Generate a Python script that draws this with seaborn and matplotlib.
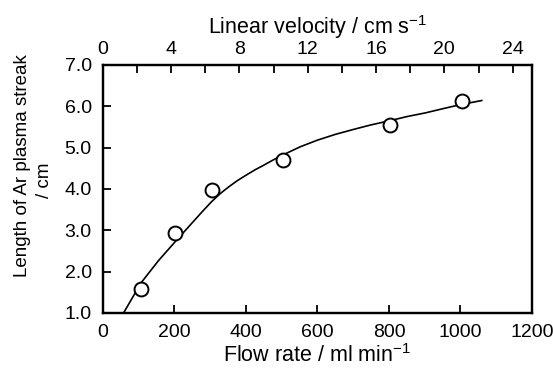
import matplotlib
matplotlib.use("Agg")
import matplotlib.pyplot as plt
import seaborn as sns
import pandas as pd
from matplotlib.ticker import MultipleLocator

sns.set_style("ticks")
plt.rcParams['font.family'] = ['Liberation Sans', 'DejaVu Sans']
plt.rcParams['mathtext.default'] = 'regular'
plt.rcParams['text.color'] = 'black'
plt.rcParams['axes.labelcolor'] = 'black'
plt.rcParams['xtick.color'] = 'black'
plt.rcParams['ytick.color'] = 'black'

# measured points
flow_pts = [107, 203, 305, 503, 802, 1005]
streak_pts = [1.59, 2.93, 3.97, 4.71, 5.54, 6.12]

# fitted curve
flow_curve = [58, 107, 156, 203, 254, 280, 305, 330, 352, 376, 400, 425, 449, 476,
              503, 552, 600, 650, 701, 750, 802, 850, 902, 950, 1000, 1060]
streak_curve = [1.0, 1.73, 2.27, 2.73, 3.22, 3.47, 3.70, 3.90, 4.05, 4.20, 4.33, 4.46,
                4.57, 4.70, 4.82, 5.02, 5.18, 5.32, 5.44, 5.55, 5.65, 5.75, 5.84,
                5.94, 6.04, 6.14]

y_ticks = [1.0, 2.0, 3.0, 4.0, 5.0, 6.0, 7.0]

# top axis: 24 cm/s sits at about 1146 ml/min
vel_max = 24 * 1200 / 1146

pts = pd.DataFrame({'flow': flow_pts, 'streak': streak_pts})
curve = pd.DataFrame({'flow': flow_curve, 'streak': streak_curve})

fig = plt.figure(figsize=(5.53, 3.69), dpi=100)
ax = fig.add_axes([0.186, 0.152, 0.776, 0.672])

sns.lineplot(data=curve, x='flow', y='streak', ax=ax, color='black', linewidth=1.2)
sns.scatterplot(data=pts, x='flow', y='streak', ax=ax, s=100, facecolor='white',
                edgecolor='black', linewidth=1.4, zorder=3)

fs_tick = 14
fs_lab = 15.5
fs_ylab = 13.5
ax.xaxis.set_major_locator(MultipleLocator(200))
ax.set_yticks(y_ticks)
ax.set_yticklabels([f"{v:.1f}" for v in y_ticks])
ax.set_xlim(0, 1200)
ax.set_ylim(1.0, 7.0)
ax.tick_params(direction='in', length=6, width=1.3, labelsize=fs_tick, top=False,
               right=False, pad=8)
ax.set_xlabel("Flow rate / ml min$^{-1}$", fontsize=fs_lab, labelpad=2)
ax.set_ylabel("")
for s in ax.spines.values():
    s.set_linewidth(1.6)
    s.set_color('black')

fig.text(0.040, 0.552, "Length of Ar plasma streak", rotation=90, ha='center',
         va='center', fontsize=fs_ylab)
fig.text(0.080, 0.512, "/ cm", rotation=90, ha='center', va='center', fontsize=fs_ylab)

top = ax.twiny()
top.set_xlim(0, vel_max)
top.xaxis.set_major_locator(MultipleLocator(4))
top.xaxis.set_minor_locator(MultipleLocator(2))
top.tick_params(which='both', direction='in', length=6, width=1.3, labelsize=fs_tick, pad=5)
top.set_xlabel("Linear velocity / cm s$^{-1}$", fontsize=fs_lab, labelpad=5)
for s in top.spines.values():
    s.set_linewidth(1.6)
    s.set_color('black')

fig.savefig("out.png", dpi=100)
